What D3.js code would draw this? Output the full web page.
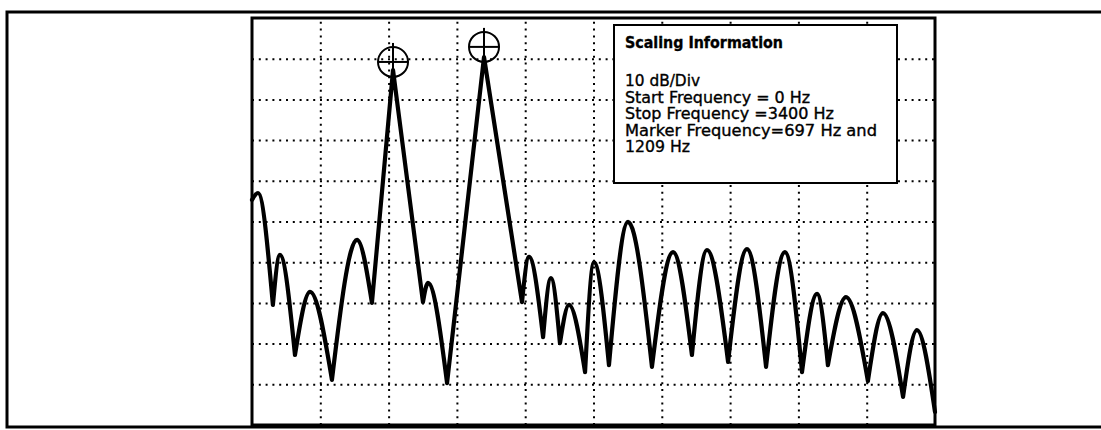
<!DOCTYPE html>
<html lang="en">
<head>
  <meta charset="UTF-8">
  <title>Spectrum - Scaling Information</title>
  <script src="https://d3js.org/d3.v7.min.js"></script>
  <style>
    body {
      margin: 0;
      background: #fff;
      overflow: hidden;
    }
    .grid line {
      stroke: #000;
      stroke-width: 2;
      stroke-dasharray: 2 4.8;
    }
    .grid path { display: none; }
    .info text {
      font-family: "DejaVu Sans", Verdana, sans-serif;
      fill: #000;
      stroke: #000;
      stroke-width: 0.35;
    }
  </style>
</head>
<body>
<div id="chart"></div>

<script>
// spectrum trace (peaks and nulls)
const freqHz = [0, 30, 104, 139, 214, 289, 398, 523, 597, 702, 851, 876, 971,
  1155, 1344, 1379, 1449, 1488, 1533, 1578, 1658, 1702, 1777, 1872, 1991,
  2096, 2190, 2265, 2370, 2464, 2559, 2653, 2738, 2813, 2867, 2957, 3066,
  3141, 3241, 3310, 3400];
const levelDb = [-44.7, -43.0, -70.5, -58.2, -82.8, -67.3, -88.9, -54.5, -70.0,
  -12.8, -69.8, -65.1, -89.7, -9.6, -69.8, -58.7, -78.4, -63.9, -79.9, -70.5,
  -87.0, -60.0, -85.3, -50.1, -85.7, -57.5, -82.8, -57.0, -84.5, -56.8, -85.7,
  -57.5, -87.0, -67.8, -85.3, -68.6, -89.2, -72.5, -93.1, -76.7, -96.8];

// marker symbols (centre of the circle)
const markerFreq = [702, 1155];
const markerLevel = [-10.8, -7.1];

// grid: 10 dB/div, 340 Hz/div
const gridFreq = [340, 680, 1020, 1360, 1700, 2040, 2380, 2720, 3060];
const gridLevel = [-10, -20, -30, -40, -50, -60, -70, -80, -90];

const infoTitle = "Scaling Information";
const infoLines = [
  "10 dB/Div",
  "Start Frequency = 0 Hz",
  "Stop Frequency =3400 Hz",
  "Marker Frequency=697 Hz and",
  "1209 Hz"
];
const infoWidths = [75, 185, 209, 252, 65];

const W = 1101, H = 430;
const plot = { left: 252, right: 935, top: 18, bottom: 425 };

const svg = d3.select("#chart").append("svg")
  .attr("width", W)
  .attr("height", H);

const x = d3.scaleLinear().domain([0, 3400]).range([plot.left, plot.right]);
const y = d3.scaleLinear().domain([-100, 0]).range([plot.bottom, plot.top]);

// outer frame (runs off the right side)
svg.append("rect")
  .attr("x", 7).attr("y", 12)
  .attr("width", W + 20).attr("height", 415)
  .attr("fill", "none")
  .attr("stroke", "#000")
  .attr("stroke-width", 3);

// dotted grid
svg.append("g")
  .attr("class", "grid")
  .attr("transform", `translate(0,${plot.bottom})`)
  .call(d3.axisBottom(x).tickValues(gridFreq).tickFormat("")
    .tickSize(-(plot.bottom - plot.top)));

svg.append("g")
  .attr("class", "grid")
  .attr("transform", `translate(${plot.left},0)`)
  .call(d3.axisLeft(y).tickValues(gridLevel).tickFormat("")
    .tickSize(-(plot.right - plot.left)));

// trace: split at nulls so each lobe is a smooth arch with a sharp null
const pts = freqHz.map((f, i) => ({ f, db: levelDb[i] }));
const breaks = [0];
for (let i = 1; i < pts.length - 1; i++) {
  if (pts[i].db < pts[i - 1].db && pts[i].db < pts[i + 1].db) breaks.push(i);
}
breaks.push(pts.length - 1);

const smooth = d3.line().x(d => x(d.f)).y(d => y(d.db)).curve(d3.curveMonotoneX);
const straight = d3.line().x(d => x(d.f)).y(d => y(d.db));

let pathD = "";
for (let k = 0; k < breaks.length - 1; k++) {
  const seg = pts.slice(breaks[k], breaks[k + 1] + 1);
  const isMain = seg.some(d => markerFreq.includes(d.f));
  pathD += (isMain ? straight : smooth)(seg);
}

svg.append("path")
  .attr("d", pathD)
  .attr("fill", "none")
  .attr("stroke", "#000")
  .attr("stroke-width", 4.2)
  .attr("stroke-linecap", "round")
  .attr("stroke-linejoin", "round");

// markers
const r = 15;
const mk = svg.append("g").selectAll("g")
  .data(markerFreq.map((f, i) => ({ f, db: markerLevel[i] })))
  .join("g")
  .attr("transform", d => `translate(${x(d.f)},${y(d.db)})`);

mk.append("circle")
  .attr("r", r)
  .attr("fill", "none")
  .attr("stroke", "#000")
  .attr("stroke-width", 2);
mk.append("line")
  .attr("x1", -r).attr("x2", r).attr("y1", 0).attr("y2", 0)
  .attr("stroke", "#000").attr("stroke-width", 2);
mk.append("line")
  .attr("x1", 0).attr("x2", 0).attr("y1", -r - 4).attr("y2", r)
  .attr("stroke", "#000").attr("stroke-width", 2);

// plot border
svg.append("rect")
  .attr("x", plot.left).attr("y", plot.top)
  .attr("width", plot.right - plot.left)
  .attr("height", plot.bottom - plot.top)
  .attr("fill", "none")
  .attr("stroke", "#000")
  .attr("stroke-width", 3);

// scaling information box
const info = svg.append("g").attr("class", "info");
info.append("rect")
  .attr("x", 614).attr("y", 25)
  .attr("width", 283).attr("height", 158)
  .attr("fill", "#fff")
  .attr("stroke", "#000")
  .attr("stroke-width", 2);

info.append("text")
  .attr("x", 625).attr("y", 48)
  .attr("font-size", 15.5)
  .attr("font-weight", "bold")
  .attr("textLength", 158)
  .attr("lengthAdjust", "spacingAndGlyphs")
  .text(infoTitle);

info.selectAll("text.line")
  .data(infoLines)
  .join("text")
  .attr("class", "line")
  .attr("x", 625)
  .attr("y", (d, i) => 86 + i * 16.6)
  .attr("font-size", 15.5)
  .attr("textLength", (d, i) => infoWidths[i])
  .attr("lengthAdjust", "spacingAndGlyphs")
  .text(d => d);
</script>
</body>
</html>
